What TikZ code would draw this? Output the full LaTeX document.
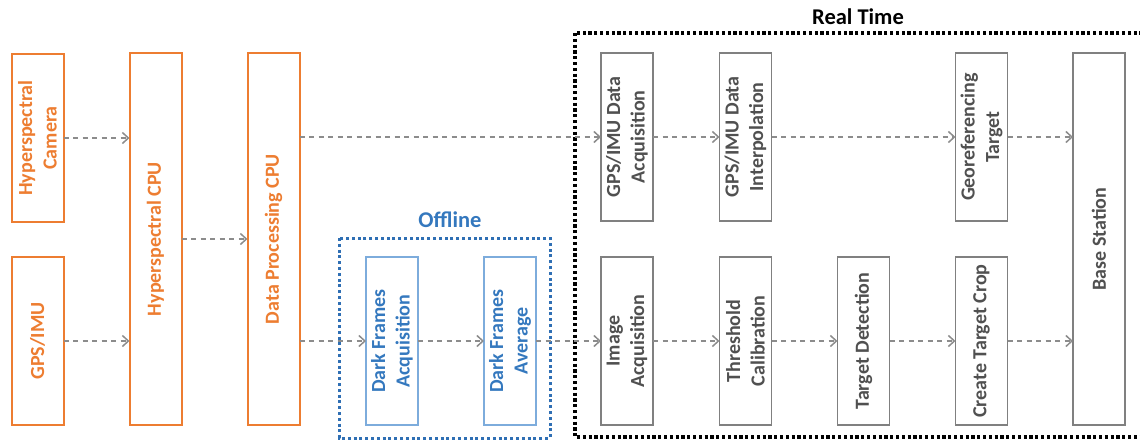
\documentclass[tikz,border=0pt]{standalone}
\usepackage{fontspec}
\setmainfont{Carlito}
\usetikzlibrary{arrows.meta}
\definecolor{orng}{RGB}{237,125,49}
\definecolor{bluebox}{RGB}{125,172,220}
\definecolor{bluetxt}{RGB}{52,120,190}
\definecolor{bluedot}{RGB}{47,111,180}
\definecolor{grybox}{RGB}{128,128,128}
\definecolor{grytxt}{RGB}{80,80,80}
\definecolor{arrcol}{RGB}{140,140,140}
\begin{document}
\begin{tikzpicture}[x=1pt,y=1pt,
  box/.style={draw, rotate=90, inner sep=0pt, outer sep=0pt, align=center,
    font=\fontsize{20}{24.5}\selectfont\bfseries, minimum height=52pt},
  obox/.style={box, draw=orng, text=orng, line width=2pt},
  bbox/.style={box, draw=bluebox, text=bluetxt, line width=1.6pt},
  gbox/.style={box, draw=grybox, text=grytxt, line width=1.8pt},
  shortbox/.style={minimum width=168pt},
  tallbox/.style={minimum width=372pt},
  arr/.style={draw=arrcol, line width=1.8pt, dash pattern=on 5pt off 4.5pt,
    -{Straight Barb[length=6pt,width=11pt,line width=1.5pt]}},
  grplabel/.style={font=\fontsize{22.5}{26}\selectfont\bfseries}
]
\useasboundingbox (0,0) rectangle (1140,-442);

% group frames
\draw[bluedot, line width=3pt, dash pattern=on 3pt off 2.8pt] (339,-238) rectangle (550,-438);
\draw[black, line width=3.2pt, dash pattern=on 3.2pt off 2.6pt] (575,-33) rectangle (1145,-437);
\node[grplabel, text=bluetxt] (offl) at (450,-220) {Offline};
\node[grplabel, text=black] (rtl) at (858,-17) {Real Time};

% orange boxes
\node[obox, shortbox] (cam) at (37.5,-138) {Hyperspectral\\Camera};
\node[obox, shortbox] (gps) at (37.5,-341) {GPS/IMU};
\node[obox, tallbox] (hcpu) at (155.5,-239) {Hyperspectral CPU};
\node[obox, tallbox] (dpcpu) at (273.5,-239) {Data Processing CPU};

% blue boxes
\node[bbox, shortbox] (dfa) at (392,-341) {Dark Frames\\Acquisition};
\node[bbox, shortbox] (dfv) at (510,-341) {Dark Frames\\Average};

% gray boxes
\node[gbox, shortbox] (gpsacq) at (627,-137) {GPS/IMU Data\\Acquisition};
\node[gbox, shortbox] (gpsint) at (745.5,-137) {GPS/IMU Data\\Interpolation};
\node[gbox, shortbox] (geo) at (981.5,-137) {Georeferencing\\Target};
\node[gbox, shortbox] (img) at (627,-341) {Image\\Acquisition};
\node[gbox, shortbox] (thr) at (745.5,-341) {Threshold\\Calibration};
\node[gbox, shortbox] (tdet) at (863.5,-341) {Target Detection};
\node[gbox, shortbox] (crop) at (981.5,-341) {Create Target Crop};
\node[gbox, tallbox] (base) at (1099,-239) {Base Station};

% connectors
\draw[arr] (cam.south) -- (cam.south -| hcpu.north);
\draw[arr] (gps.south) -- (gps.south -| hcpu.north);
\draw[arr] (hcpu.south) -- (dpcpu.north);
\draw[arr] (gpsacq.north -| dpcpu.south) -- (gpsacq.north);
\draw[arr] (dfa.north -| dpcpu.south) -- (dfa.north);
\draw[arr] (dfa.south) -- (dfv.north);
\draw[arr] (dfv.south) -- (img.north);
\draw[arr] (gpsacq.south) -- (gpsint.north);
\draw[arr] (gpsint.south) -- (geo.north);
\draw[arr] (geo.south) -- (geo.south -| base.north);
\draw[arr] (img.south) -- (thr.north);
\draw[arr] (thr.south) -- (tdet.north);
\draw[arr] (tdet.south) -- (crop.north);
\draw[arr] (crop.south) -- (crop.south -| base.north);
\end{tikzpicture}
\end{document}
